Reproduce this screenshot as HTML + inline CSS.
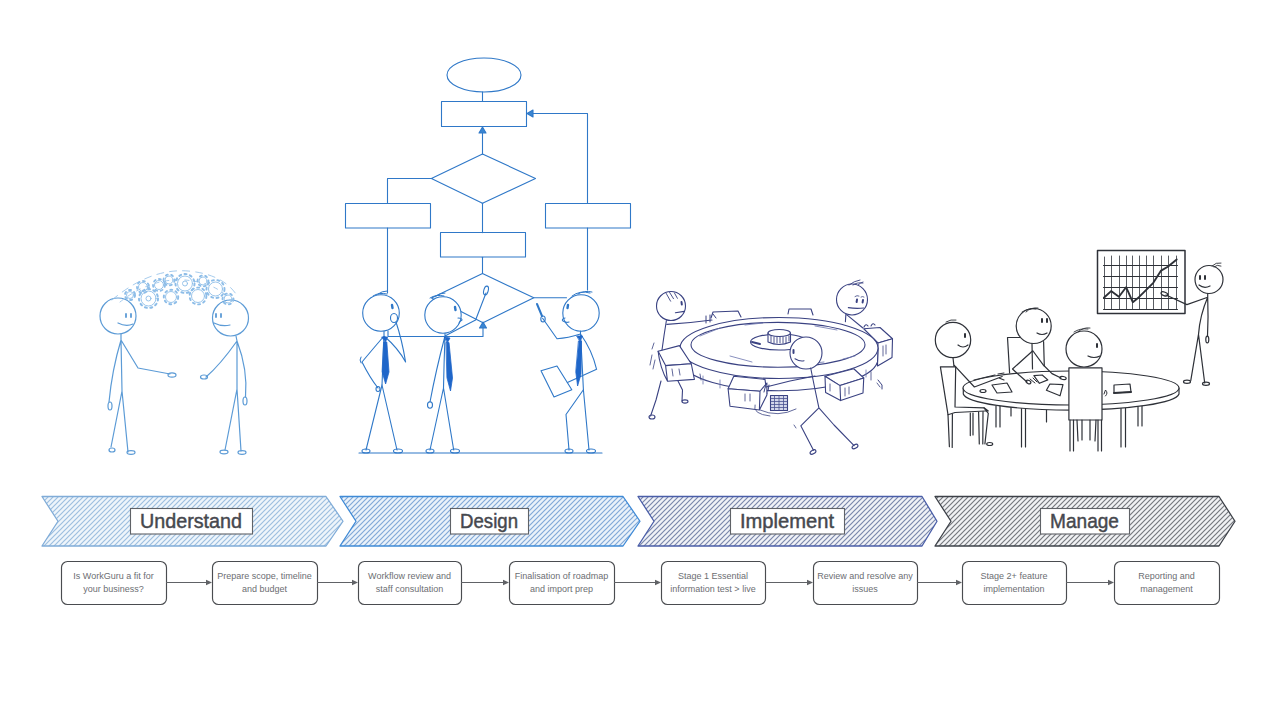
<!DOCTYPE html>
<html><head><meta charset="utf-8"><style>
html,body{margin:0;padding:0;background:#fff;}
svg{display:block;}
.lab{font-family:"Liberation Sans",sans-serif;font-size:20.5px;fill:#46484e;stroke:#46484e;stroke-width:0.45px;}
.bx{font-family:"Liberation Sans",sans-serif;font-size:9px;fill:#6c6e72;}
</style></head><body>
<svg width="1280" height="720" viewBox="0 0 1280 720">
<defs><pattern id="h0" patternUnits="userSpaceOnUse" width="5" height="5"><rect width="5" height="5" fill="#eef5fb"/><path d="M-1.25,1.25 L1.25,-1.25 M0,5 L5,0 M3.75,6.25 L6.25,3.75" stroke="#9dbfe0" stroke-width="1.2"/></pattern><pattern id="h1" patternUnits="userSpaceOnUse" width="5" height="5"><rect width="5" height="5" fill="#eaf2fa"/><path d="M-1.25,1.25 L1.25,-1.25 M0,5 L5,0 M3.75,6.25 L6.25,3.75" stroke="#82a9d8" stroke-width="1.2"/></pattern><pattern id="h2" patternUnits="userSpaceOnUse" width="5" height="5"><rect width="5" height="5" fill="#f0f2f7"/><path d="M-1.25,1.25 L1.25,-1.25 M0,5 L5,0 M3.75,6.25 L6.25,3.75" stroke="#7a88ac" stroke-width="1.2"/></pattern><pattern id="h3" patternUnits="userSpaceOnUse" width="5" height="5"><rect width="5" height="5" fill="#f1f2f4"/><path d="M-1.25,1.25 L1.25,-1.25 M0,5 L5,0 M3.75,6.25 L6.25,3.75" stroke="#76797f" stroke-width="1.2"/></pattern></defs>
<rect width="1280" height="720" fill="#fff"/>
<g id="s1" fill="none" stroke="#5c9bd6" stroke-width="1.2" stroke-linecap="round" stroke-linejoin="round">
  <!-- left person -->
  <circle cx="118" cy="316" r="18"/>
  <path d="M126,314 l0,3 M131,314 l0,3" stroke-width="1.8"/>
  <path d="M118,323 q8,4 15,1"/>
  <path d="M121,334 L121,340 L122,391 M121,340 Q112,370 109,402 M121,340 L138,368 L170,374 M122,391 L111,447 M122,391 L128,452"/>
  <ellipse cx="110" cy="406" rx="2" ry="4"/>
  <ellipse cx="172" cy="375" rx="4" ry="2.2"/>
  <ellipse cx="112" cy="450" rx="3" ry="2"/>
  <ellipse cx="131" cy="452.5" rx="4" ry="1.8"/>
  <!-- right person -->
  <circle cx="230.5" cy="318" r="18"/>
  <path d="M216,314 l0,3 M221,314 l0,3" stroke-width="1.8"/>
  <path d="M214,323 q8,4 16,2"/>
  <path d="M236,336 L237,341 L237,389 M237,341 Q220,365 206,377 M237,341 Q248,370 245.5,397 M237,389 L225,450 M237,389 L241,451"/>
  <ellipse cx="204" cy="377" rx="3.5" ry="2"/>
  <ellipse cx="245" cy="401" rx="2" ry="4"/>
  <ellipse cx="224" cy="452" rx="4" ry="1.8"/>
  <ellipse cx="242" cy="452.5" rx="4" ry="1.8"/>
</g>
<g id="gears" fill="none" stroke="#8dbde8" stroke-width="0.9" stroke-linecap="round">
  <path d="M112,300 Q150,268 188,271 Q222,274 236,294" stroke-dasharray="7 6" stroke="#9cc5ea"/>
  <path d="M120,302 Q150,278 185,280 Q218,283 232,302" stroke-dasharray="4 6" stroke="#9cc5ea"/>
  <circle cx="148.5" cy="298.5" r="7.5"/>
  <circle cx="148.5" cy="298.5" r="9.5" stroke-width="2" stroke-dasharray="2 3.5"/>
  <circle cx="148.5" cy="298.5" r="2.5"/>
  <circle cx="171" cy="297" r="5.5"/>
  <circle cx="171" cy="297" r="7.2" stroke-width="1.9" stroke-dasharray="2 3.5"/>
  <circle cx="185" cy="283.5" r="7.5"/>
  <circle cx="185" cy="283.5" r="9.5" stroke-width="2" stroke-dasharray="2 3.5"/>
  <circle cx="185" cy="283.5" r="2.5"/>
  <circle cx="198" cy="296" r="6.5"/>
  <circle cx="198" cy="296" r="8.4" stroke-width="1.9" stroke-dasharray="2 3.5"/>
  <circle cx="215.5" cy="289" r="7"/>
  <circle cx="215.5" cy="289" r="9" stroke-width="1.9" stroke-dasharray="2 3.5"/>
  <circle cx="143" cy="287" r="4.5"/>
  <circle cx="143" cy="287" r="6" stroke-width="1.8" stroke-dasharray="2 3.5"/>
  <circle cx="159" cy="285" r="4.5"/>
  <circle cx="159" cy="285" r="6" stroke-width="1.8" stroke-dasharray="2 3.5"/>
  <circle cx="169" cy="280" r="4"/>
  <circle cx="169" cy="280" r="5.5" stroke-width="1.8" stroke-dasharray="2 3.5"/>
  <circle cx="203" cy="281" r="4"/>
  <circle cx="203" cy="281" r="5.5" stroke-width="1.8" stroke-dasharray="2 3.5"/>
  <circle cx="228" cy="299" r="4"/>
  <circle cx="228" cy="299" r="5.5" stroke-width="1.8" stroke-dasharray="2 3.5"/>
  <circle cx="130" cy="295" r="3.5"/>
  <circle cx="130" cy="295" r="5" stroke-width="2" stroke-dasharray="2 3.5"/>
</g>
<g id="s2" fill="none" stroke="#2f78c8" stroke-width="1.1" stroke-linecap="round" stroke-linejoin="round">
  <!-- flowchart -->
  <ellipse cx="484" cy="75" rx="37" ry="17"/>
  <path d="M482.5,92 L482.5,101"/>
  <rect x="441.5" y="101.5" width="85" height="25"/>
  <path d="M526.5,113.5 L587.5,113.5 L587.5,203.5 M587.5,228 L587.5,290"/>
  <path d="M527,113.5 L533,110 L533,117 Z" fill="#3a86d2"/>
  <path d="M482.5,154 L482.5,128"/>
  <path d="M482.5,127 L479,133 L486,133 Z" fill="#3a86d2"/>
  <path d="M482.5,154 L535.5,178.5 L482.5,203.3 L431.4,178.5 Z"/>
  <path d="M431.4,178.5 L387.5,178.5 L387.5,203.5 M387.5,228 L387.5,293"/>
  <rect x="345.5" y="203.5" width="85" height="24.5"/>
  <rect x="545.5" y="203.5" width="85" height="24.5"/>
  <path d="M482.5,203.3 L482.5,232.6"/>
  <rect x="440.5" y="232.5" width="85" height="24.5"/>
  <path d="M482.5,257.2 L482.5,273.5"/>
  <path d="M482.5,273.5 L533.8,297.8 L483,322.7 M482.5,273.5 L431.6,298 L441,304 M460,311 L483,322.7"/>
  <path d="M533.8,297.8 L566.5,297.8"/>
  <path d="M388,331 L388,336.5 L483,336.5 L483,325"/>
  <path d="M483,322 L479.5,328 L486.5,328 Z" fill="#3a86d2"/>
  <!-- ground -->
  <path d="M359,453 L602,453" stroke-width="1.1"/>
  <!-- person A -->
  <circle cx="381" cy="313" r="18.3" fill="#fff"/>
  <path d="M373,296 q6,-4 14,-2 M378,294 q4,-3 9,-3" stroke-width="1"/>
  <path d="M392,305 l0.5,3" stroke-width="2.4"/>
  <ellipse cx="394" cy="318" rx="3.5" ry="4.5"/>
  <path d="M384,331.5 L384,336 Q383,360 382,385 M384,336 Q372,350 362,362 Q370,378 378,388 M384,336 Q398,348 405.6,362 Q402,340 396,322"/>
  <path d="M382,385 L366,450 M382,385 L397,450"/>
  <ellipse cx="366" cy="451" rx="4" ry="2"/>
  <ellipse cx="398" cy="451" rx="4.5" ry="2"/>
  <path d="M382,337 L387.5,337 L385.5,342 Z M384,342 L386.8,342 L389,372 L385.6,384 L382.2,372 Z" fill="#1f66c9" stroke="#1f66c9" stroke-width="0.8"/>
  <ellipse cx="378" cy="389" rx="2" ry="2.5"/>
  <path d="M361,357 q-2,3 0,6" stroke-width="1"/>
  <!-- person B -->
  <circle cx="443" cy="315" r="18.2" fill="#fff"/>
  <path d="M430,298 q6,-4 14,-2 M436,296 q4,-3 9,-3" stroke-width="1"/>
  <path d="M455,307 l0.5,3" stroke-width="2.4"/>
  <path d="M458,318 q4,0 4,2 q-3,2 -3,3" />
  <path d="M445,333.5 L445,336 Q444,362 443.5,388 M445,336 Q460,328 475.6,320 L486,293 M445,336 Q436,370 430,402"/>
  <ellipse cx="486" cy="290.5" rx="2.2" ry="4.5" transform="rotate(15 486 290.5)"/>
  <ellipse cx="430" cy="405" rx="2.5" ry="3.2"/>
  <path d="M443.5,388 L430,450 M443.5,388 L453.7,450"/>
  <ellipse cx="430" cy="451" rx="4" ry="2"/>
  <ellipse cx="455" cy="451" rx="4.5" ry="2"/>
  <path d="M444.5,337 L450,338 L447.5,342.5 Z M446.3,342.5 L449,342.5 L452.5,378 L450.5,391 L447,378 Z" fill="#1f66c9" stroke="#1f66c9" stroke-width="0.8"/>
  <!-- person C -->
  <circle cx="581" cy="313" r="18.2" fill="#fff"/>
  <path d="M572,296 q8,-6 18,-3 M578,294 q6,-4 14,-2" stroke-width="1"/>
  <path d="M568,305 l-0.5,3" stroke-width="2.4"/>
  <path d="M565,318 q-4,1 -2,3 q3,2 6,1"/>
  <path d="M580.5,331 L580.5,334 Q582,360 583.4,389.7 M580.5,334 Q568,338 557,338.7 L542.6,318.3 M580.5,334 Q592,350 596.6,369.3 L567.4,382.4"/>
  <path d="M542,316 L537,304" stroke-width="2"/>
  <ellipse cx="543" cy="319" rx="2.2" ry="3"/>
  <path d="M541,370.8 L557,366 L571.8,389.7 L554,397 Z"/>
  <path d="M583.4,389.7 L566,414.5 L569,450 M583.4,389.7 L589,450"/>
  <ellipse cx="569" cy="451" rx="4" ry="2"/>
  <ellipse cx="591" cy="451" rx="4.5" ry="2"/>
  <path d="M577,336 L582.5,336 L580,341 Z M578.8,341 L581.5,341 L581,374 L577.6,386 L575.8,372 Z" fill="#1f66c9" stroke="#1f66c9" stroke-width="0.8"/>
</g>
<g id="s3" fill="none" stroke="#3a4282" stroke-width="1.1" stroke-linecap="round" stroke-linejoin="round">
  <!-- back person right (behind gear) -->
  <circle cx="852" cy="299.5" r="15.5" fill="#fff"/>
  <path d="M857,299.6 l-0.4,2.4 M863,300 l-0.4,2.4" stroke-width="2"/><path d="M855,296.5 q2,-1.5 4,-0.5 M861,297 q1.5,-1 3,0" stroke-width="0.8"/>
  <path d="M848.3,307.6 Q856,309 863.9,308"/>
  <path d="M849,285 q5,-4 11,-5 M853,285 q4,-3 10,-2 M858,285 q2,-2 5,-3" stroke-width="0.9"/>
  <path d="M845.9,314 L845.4,321.6 M846.9,314.8 L862.9,328 M864,327 q2,-4 4,-1 M871,326 q2,-4 4,-1"/>
  <!-- back teeth -->
  <path d="M711,318 L713,312 L738,311 L741,317 M788,314 L789,309 L811,309 L813,315" fill="#fff"/>
  <!-- right tooth -->
  <path d="M863.75,328.75 L880,327.5 L892.5,338.75 L878,343 Z" fill="#fff"/>
  <path d="M878,343 L892.5,338.75 L892,357.5 L877.5,366 Z" fill="#fff"/>
  <path d="M883,346 l0,10 M886,345 l0,9" stroke-width="0.8"/>
  <!-- gear body: side wall -->
  <path d="M680,348 L680.5,362 A99,32 0 0 0 877.5,362 L878,348" fill="#fff"/>
  <!-- top surface -->
  <ellipse cx="779" cy="348" rx="99" ry="30.5" fill="#fff"/>
  <ellipse cx="778" cy="344.8" rx="87" ry="22.4"/>
  <path d="M700,336 l20,-8 M730,356 l22,6 M815,326 l22,4 M843,359 l12,-3 M745,325 l18,-2 M806,364 l18,-2 M703,384 l0,-8 M720,388 l0,-8 M843,387 l0,-7 M866,377 l0,-7" stroke-width="0.8" stroke="#6b74ad"/>
  <!-- hub -->
  <ellipse cx="779" cy="342" rx="28.5" ry="8"/>
  <path d="M768,333 L768,342 Q779,347 790.5,342 L790.5,333" fill="#fff"/>
  <ellipse cx="779.2" cy="333" rx="11.2" ry="3.5" fill="#fff"/>
  <path d="M771,336 l0,6 M774,337 l0,6 M777,337 l0,6 M780,337 l0,6 M783,337 l0,6 M786,337 l0,6 M789,336 l0,5" stroke-width="0.9"/>
  <path d="M752,342 l8,2" stroke-width="2"/>
  <!-- left tooth -->
  <path d="M658.1,351.25 L679.4,345.6 L691.25,363.75 L665.6,365.6 Z" fill="#fff"/>
  <path d="M665.6,365.6 L691.25,363.75 L694.4,379.4 L667.5,381.25 Z M658.1,351.25 Q660,368 667.5,381.25" fill="#fff"/>
  <path d="M672,369 l1,7 M679,369 l1,6 M700,374 l1,6" stroke-width="0.8"/>
  <!-- front-left tooth -->
  <path d="M733.75,376.25 L765,379.4 L766.9,393.75 L760,391.25 L728.1,388.75 Z" fill="#fff"/>
  <path d="M728.1,388.75 L760,391.25 L759.4,410 L730,406.25 Z M760,391.25 L766.9,383 L766.9,395 L759.4,410" fill="#fff"/>
  
  <path d="M745,394 l0,7 M750,394 l0,7" stroke-width="0.8"/>
  <!-- front-right tooth -->
  <path d="M825,376.25 L853.75,368.75 L863.75,378 L840,385.6 Z" fill="#fff"/>
  <path d="M825,376.25 L840,385.6 L840.6,400.6 L825.6,392.5 Z M840,385.6 L863.75,378 L863,393 L840.6,400.6 Z" fill="#fff"/>
  
  <path d="M845,388 l0,8 M849,387 l0,7 M830,384 l0,7 M871,372 l0,8" stroke-width="0.8"/>
  <!-- spring -->
  <rect x="770.5" y="395.5" width="17" height="15" fill="#d4d7ea" stroke="#3a4282"/>
  <path d="M771,398.5 h16 M771,401.5 h16 M771,404.5 h16 M771,407.5 h16 M774.5,396 v14 M779,396 v14 M783.5,396 v14" stroke="#4a5290" stroke-width="0.8"/>
  <path d="M760,410 Q778,418 796,409" stroke-width="0.8"/>
  <path d="M755,405 Q752,414 770,416" stroke-width="0.8"/>
  <!-- left person -->
  <circle cx="671" cy="306" r="14.5" fill="#fff"/>
  <path d="M666.2,293.4 L670.6,301.2 M669.6,292.4 L673.5,298.7 M674.4,292.9 L677.4,298.3" stroke-width="0.9"/>
  <path d="M681.5,302 l0.3,2.5" stroke-width="2"/>
  <path d="M675.4,312.8 L684.2,311.4"/>
  <path d="M666.4,320.5 Q664,335 662,350 M667,324.4 Q690,323 712,320"/>
  <path d="M706,316 l0,7 M710,315 l0,7 M716,318 l-3,-4" stroke-width="1"/>
  <path d="M661,381 L656,400 L650.6,416 M678,381 L682.5,390 L682,401"/>
  <ellipse cx="652" cy="417" rx="3" ry="2"/>
  <ellipse cx="685" cy="401.5" rx="3" ry="1.6"/>
  <path d="M652,355 l-2,10 M655,360 l-2,9 M654,343 l-2,6" stroke-width="0.8"/>
  <!-- front person -->
  <circle cx="806" cy="353" r="16" fill="#fff"/>
  <path d="M793.5,350 l0,3" stroke-width="2"/>
  <path d="M795,358.75 q5,3 9,2"/>
  <path d="M810.7,368 Q814,385 818.9,407.8 M815,376 L790,381 L766,387 M818.9,407.8 L800.8,425.8 L813.5,450.3 M818.9,407.8 L834,425 L854.1,445.7"/>
  <ellipse cx="813" cy="452" rx="3.2" ry="1.8" transform="rotate(-30 813 452)"/>
  <ellipse cx="855" cy="446.5" rx="3.2" ry="1.8" transform="rotate(-30 855 446.5)"/>
  <path d="M766,384 l-2,8 M769,385 l-1,6" stroke-width="1"/>
  <path d="M880,387 l-3,-4 M796,428 l-2,-3" stroke-width="0.8"/>
  <path d="M878,380 l4,5 L882,389" stroke-width="1"/>
</g>
<g id="s4" fill="none" stroke="#2e3138" stroke-width="1.2" stroke-linecap="round" stroke-linejoin="round">
  <!-- chart -->
  <rect x="1097.5" y="250.5" width="87.5" height="63" stroke-width="1.5"/>
  <path d="M1104.5,257 V309 M1111.5,256 V309 M1119.5,256 V309 M1126.5,256 V309 M1132.5,256 V309 M1139.5,256 V309 M1146.5,256 V309 M1153.5,256 V309 M1161.5,256 V309 M1168.5,256 V309 M1176.5,256 V309" stroke-width="1" stroke="#5a5d63"/>
  <path d="M1103.5,265.5 H1177.5 M1103.5,276.5 H1177.5 M1103.5,287.5 H1177.5 M1103.5,298.5 H1177.5 M1103.5,309.5 H1177.5" stroke-width="1" stroke="#2e3138"/>
  <path d="M1103.9,297.8 L1111.1,291.1 L1118.9,296.7 L1126.1,287.2 L1132.8,302.2 L1138.9,297.2 L1153.3,282.8 L1161.1,270.6 L1167.8,266.7 L1176.7,259.4" stroke-width="1.9"/>
  <!-- presenter -->
  <circle cx="1209" cy="279.5" r="14"/>
  <path d="M1212,266 q4,-4 9,-3 M1214,267 q3,-3 7,-1" stroke-width="0.9"/>
  <path d="M1200,276 l0,3 M1205,276 l0,3" stroke-width="2"/>
  <path d="M1199,285 q5,4 11,1"/>
  <path d="M1207.7,293.5 L1207.7,297.3 Q1200,315 1198.5,334.4 M1207.7,297.3 L1186.9,304.6 L1166,295 M1207.7,297.3 Q1208.5,318 1207.5,336 M1198.5,334.4 L1190.8,380.3 M1198.5,334.4 L1204.7,383"/>
  <ellipse cx="1164.4" cy="293.9" rx="3.5" ry="1.8" transform="rotate(20 1164.4 293.9)"/>
  <ellipse cx="1207.3" cy="339.5" rx="1.5" ry="3.3"/>
  <ellipse cx="1187" cy="381.7" rx="3.5" ry="1.6"/>
  <ellipse cx="1206" cy="383.8" rx="3.5" ry="1.6"/>
  <!-- middle back person + chair -->
  <path d="M1009.6,373 L1007.5,337.5 L1020,337.5 M1043.6,341.7 L1044.3,366" fill="#fff"/>
  <circle cx="1033.7" cy="326" r="17.5" fill="#fff"/>
  <path d="M1022,312 q6,-4 14,-3 M1026,312 q5,-5 12,-4" stroke-width="0.9"/>
  <path d="M1042,319 l0,3 M1047,319 l0,3" stroke-width="2"/>
  <path d="M1037,333 q5,3 10,0"/>
  <path d="M1032,343.5 L1032.5,369"/>
  
  
  <!-- table legs -->
  <path d="M996,406 L996,427 M1000,406 L1000,427 M1011,406 L1011,416 M1021.5,408 L1021.5,447 M1025.5,408 L1025.5,447 M1046.5,408 L1046.5,422 M1121,408 L1121,447 M1125.5,408 L1125.5,447 M1138,406 L1138,426 M1142,406 L1142,426"/>
  <!-- table -->
  <path d="M963.3,388 L963.3,394 A108,17 0 0 0 1179,394 L1179,388" fill="#fff"/>
  <ellipse cx="1071" cy="388" rx="108" ry="17" fill="#fff"/>
  <!-- papers -->
  <path d="M992,385 L1007,383 L1012,392 L997,393 Z M1033.9,375.7 L1042.2,375 L1047.8,379.9 L1039.4,383.3 Z M1046.4,390.3 L1049.9,384 L1063,384.7 L1060,395.8 Z M1114,385 L1130,384 L1131,392 L1114,393 Z" fill="#fff"/>
  <path d="M1114,393 L1131,392" stroke-width="2"/>
  <ellipse cx="983" cy="391" rx="3" ry="1.5"/>
  <path d="M1032.5,351 L1012.5,369 L1019,375 L1027,382 M1033,351 L1043.6,365.3 L1052,373.6 L1061,378"/>
  <ellipse cx="1028.5" cy="382" rx="2.5" ry="1.6" transform="rotate(25 1028.5 382)"/><path d="M1030,379 l5,4 M1033,378 l4,4" stroke-width="1"/>
  <ellipse cx="1063" cy="378" rx="3.2" ry="1.5" transform="rotate(10 1063 378)"/>
  <!-- left person + chair -->
  <circle cx="953" cy="340" r="17.7" fill="#fff"/>
  <path d="M946,322 q5,-3 10,-2" stroke-width="0.9"/>
  <path d="M965,334 l0,3" stroke-width="2"/>
  <path d="M958,345 q5,4 10,0"/>
  <path d="M953,357.8 L954,366.8"/>
  <path d="M940.4,366.8 L955.7,366.8 L955,407 L984,407.8 L988.3,411 L984.9,411 L955,412.5 L948,414.7 Z" fill="#fff"/>
  <path d="M948,414.7 L949.4,446.7 M952.4,414 L952.2,447.4 M970.3,413 L970.3,435.6 M973,413 L973,435 M978.6,412 L979.3,444 M983,411.5 L982.8,444"/>
  <path d="M984,407.8 L988.3,413.3 L984.9,443.9"/>
  <ellipse cx="989.7" cy="444" rx="3" ry="1.5"/>
  <path d="M954.3,365.4 L974.4,387 L1002.2,376.5 M974,380 L995,375 M998,374 l6,-1 M999,378 l5,2" />
  <!-- front right person + chair -->
  <circle cx="1084" cy="349" r="18" fill="#fff"/>
  <path d="M1074,332 q6,-4 14,-3 M1078,332 q5,-5 12,-4" stroke-width="0.9"/>
  <path d="M1097,344 l0,3" stroke-width="2"/>
  <path d="M1088,356 q6,3 12,0"/>
  <path d="M1068.9,420 L1068.9,367.8 L1102,367.8 L1102,420 Z" fill="#fff"/>
  <path d="M1070,420 L1070,451 M1073.5,420 L1073.5,451 M1098,420 L1098,451 M1101.5,420 L1101.5,451 M1077,420 L1078,441 M1096,420 L1095,441 M1082,420 L1082,440 M1090,420 L1090,440"/>
  <path d="M1104,394 l1.5,-4 q3,3 0,6" stroke-width="1"/>
</g>

<g id="chevrons">
<path d="M42,496.5 L326,496.5 L343,521.25 L326,546 L42,546 L58,521.25 Z" fill="url(#h0)" stroke="#80acd8" stroke-width="1.3" stroke-linejoin="round"/>
<path d="M340,496.5 L623,496.5 L640,521.25 L623,546 L340,546 L356,521.25 Z" fill="url(#h1)" stroke="#3f8ad6" stroke-width="1.3" stroke-linejoin="round"/>
<path d="M638,496.5 L922,496.5 L937,521.25 L922,546 L638,546 L654,521.25 Z" fill="url(#h2)" stroke="#4a5ea8" stroke-width="1.3" stroke-linejoin="round"/>
<path d="M935,496.5 L1219,496.5 L1235,521.25 L1219,546 L935,546 L951,521.25 Z" fill="url(#h3)" stroke="#3d4148" stroke-width="1.3" stroke-linejoin="round"/>
</g>
<g id="labels">
<rect x="130.5" y="508.5" width="122" height="25.5" fill="#fff" stroke="#5f6267" stroke-width="1.1"/>
<text x="191.0" y="528" text-anchor="middle" class="lab" textLength="102" lengthAdjust="spacingAndGlyphs">Understand</text>
<rect x="450.5" y="508.5" width="78" height="25.5" fill="#fff" stroke="#5f6267" stroke-width="1.1"/>
<text x="489.0" y="528" text-anchor="middle" class="lab" textLength="58" lengthAdjust="spacingAndGlyphs">Design</text>
<rect x="730.5" y="508.5" width="114" height="25.5" fill="#fff" stroke="#5f6267" stroke-width="1.1"/>
<text x="787.0" y="528" text-anchor="middle" class="lab" textLength="94" lengthAdjust="spacingAndGlyphs">Implement</text>
<rect x="1040.5" y="508.5" width="89" height="25.5" fill="#fff" stroke="#5f6267" stroke-width="1.1"/>
<text x="1084.5" y="528" text-anchor="middle" class="lab" textLength="69" lengthAdjust="spacingAndGlyphs">Manage</text>
</g>
<g id="boxes">
<rect x="61.5" y="561.5" width="105" height="43" rx="6" fill="#fff" stroke="#4a4c50" stroke-width="1.15"/>
<text x="113.5" y="578.5" text-anchor="middle" class="bx">Is WorkGuru a fit for</text>
<text x="113.5" y="591.5" text-anchor="middle" class="bx">your business?</text>
<path d="M166,582.5 L211,582.5" stroke="#606266" stroke-width="1.15"/>
<path d="M206,579.8 L212,582.5 L206,585.2 Z" fill="#606266"/>
<rect x="212.5" y="561.5" width="105" height="43" rx="6" fill="#fff" stroke="#4a4c50" stroke-width="1.15"/>
<text x="264.5" y="578.5" text-anchor="middle" class="bx">Prepare scope, timeline</text>
<text x="264.5" y="591.5" text-anchor="middle" class="bx">and budget</text>
<path d="M317,582.5 L357,582.5" stroke="#606266" stroke-width="1.15"/>
<path d="M352,579.8 L358,582.5 L352,585.2 Z" fill="#606266"/>
<rect x="358.5" y="561.5" width="103" height="43" rx="6" fill="#fff" stroke="#4a4c50" stroke-width="1.15"/>
<text x="409.5" y="578.5" text-anchor="middle" class="bx">Workflow review and</text>
<text x="409.5" y="591.5" text-anchor="middle" class="bx">staff consultation</text>
<path d="M461,582.5 L508,582.5" stroke="#606266" stroke-width="1.15"/>
<path d="M503,579.8 L509,582.5 L503,585.2 Z" fill="#606266"/>
<rect x="509.5" y="561.5" width="105" height="43" rx="6" fill="#fff" stroke="#4a4c50" stroke-width="1.15"/>
<text x="561.5" y="578.5" text-anchor="middle" class="bx">Finalisation of roadmap</text>
<text x="561.5" y="591.5" text-anchor="middle" class="bx">and import prep</text>
<path d="M614,582.5 L660,582.5" stroke="#606266" stroke-width="1.15"/>
<path d="M655,579.8 L661,582.5 L655,585.2 Z" fill="#606266"/>
<rect x="661.5" y="561.5" width="104" height="43" rx="6" fill="#fff" stroke="#4a4c50" stroke-width="1.15"/>
<text x="713.0" y="578.5" text-anchor="middle" class="bx">Stage 1 Essential</text>
<text x="713.0" y="591.5" text-anchor="middle" class="bx">information test > live</text>
<path d="M765,582.5 L812,582.5" stroke="#606266" stroke-width="1.15"/>
<path d="M807,579.8 L813,582.5 L807,585.2 Z" fill="#606266"/>
<rect x="813.5" y="561.5" width="104" height="43" rx="6" fill="#fff" stroke="#4a4c50" stroke-width="1.15"/>
<text x="865.0" y="578.5" text-anchor="middle" class="bx">Review and resolve any</text>
<text x="865.0" y="591.5" text-anchor="middle" class="bx">issues</text>
<path d="M917,582.5 L961,582.5" stroke="#606266" stroke-width="1.15"/>
<path d="M956,579.8 L962,582.5 L956,585.2 Z" fill="#606266"/>
<rect x="962.5" y="561.5" width="104" height="43" rx="6" fill="#fff" stroke="#4a4c50" stroke-width="1.15"/>
<text x="1014.0" y="578.5" text-anchor="middle" class="bx">Stage 2+ feature</text>
<text x="1014.0" y="591.5" text-anchor="middle" class="bx">implementation</text>
<path d="M1066,582.5 L1113,582.5" stroke="#606266" stroke-width="1.15"/>
<path d="M1108,579.8 L1114,582.5 L1108,585.2 Z" fill="#606266"/>
<rect x="1114.5" y="561.5" width="105" height="43" rx="6" fill="#fff" stroke="#4a4c50" stroke-width="1.15"/>
<text x="1166.5" y="578.5" text-anchor="middle" class="bx">Reporting and</text>
<text x="1166.5" y="591.5" text-anchor="middle" class="bx">management</text>
</g>
</svg>
</body></html>
